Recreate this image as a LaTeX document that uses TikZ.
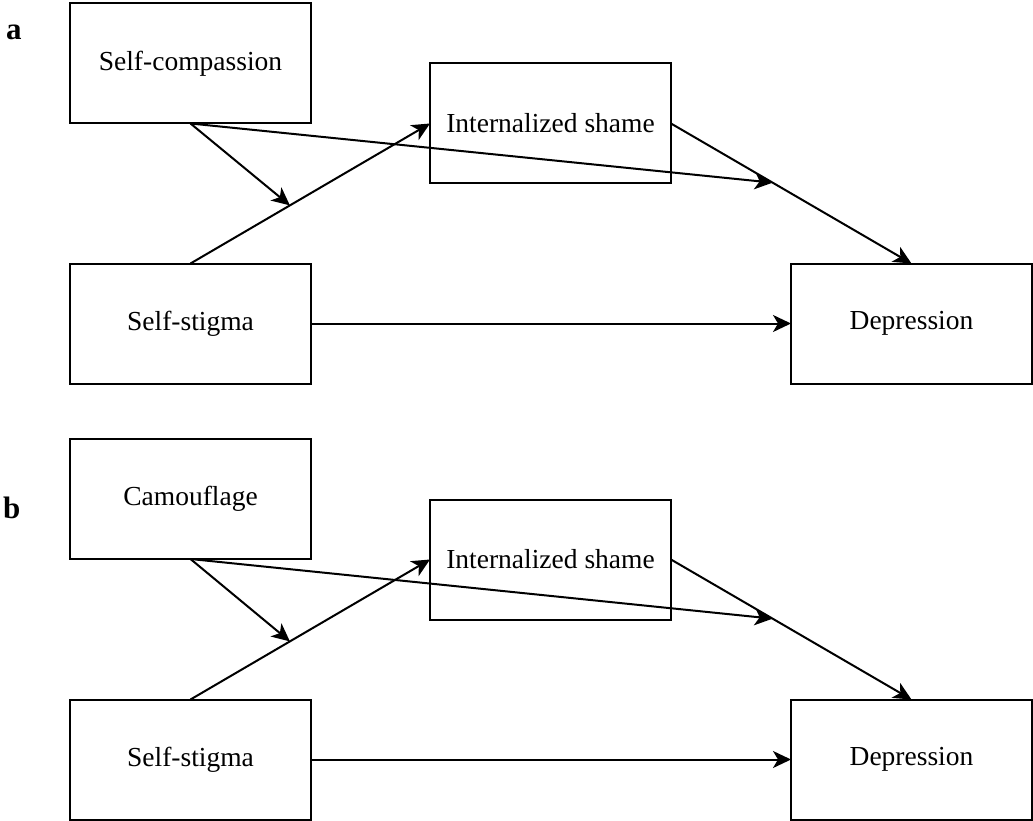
\documentclass[tikz,border=0pt]{standalone}
\usepackage{fontspec}
\setmainfont{Liberation Serif}
\usetikzlibrary{arrows.meta}
\begin{document}
\begin{tikzpicture}[x=1pt,y=-1pt,
  box/.style={draw, line width=2pt, minimum width=241pt, minimum height=120pt, inner sep=0pt, outer sep=0pt, font=\fontsize{27.5}{33}\selectfont},
  conn/.style={line width=2pt, -{Stealth[length=18pt, width=17pt, inset=5pt]}},
  panel/.style={anchor=base west, inner sep=0pt, font=\fontsize{31}{36}\selectfont\bfseries}]
\useasboundingbox (0,0) rectangle (1033,821);
% panel a
\node[panel] (la) at (6,40) {a};
\node[box] (sc) at (190.5,63.5) {Self-compassion};
\node[box] (is) at (550.5,123.5) {Internalized shame};
\node[box] (ss) at (190.5,323.5) {Self-stigma};
\node[box] (dep) at (911.5,323.5) {Depression};
\draw[conn] (ss.north) -- coordinate[pos=0.415] (m1) (is.west);
\draw[conn] (is.east) -- coordinate[pos=0.4226] (m2) (dep.north);
\draw[conn] (ss.east) -- (dep.west);
\draw[conn] (sc.south) -- (m1);
\draw[conn] (sc.south) -- (m2);
% panel b
\node[panel] (lb) at (3,518) {b};
\node[box] (cf) at (190.5,499) {Camouflage};
\node[box] (isb) at (550.5,559.5) {Internalized shame};
\node[box] (ssb) at (190.5,759.5) {Self-stigma};
\node[box] (depb) at (911.5,759.5) {Depression};
\draw[conn] (ssb.north) -- coordinate[pos=0.415] (n1) (isb.west);
\draw[conn] (isb.east) -- coordinate[pos=0.4226] (n2) (depb.north);
\draw[conn] (ssb.east) -- (depb.west);
\draw[conn] (cf.south) -- (n1);
\draw[conn] (cf.south) -- (n2);
\end{tikzpicture}
\end{document}
